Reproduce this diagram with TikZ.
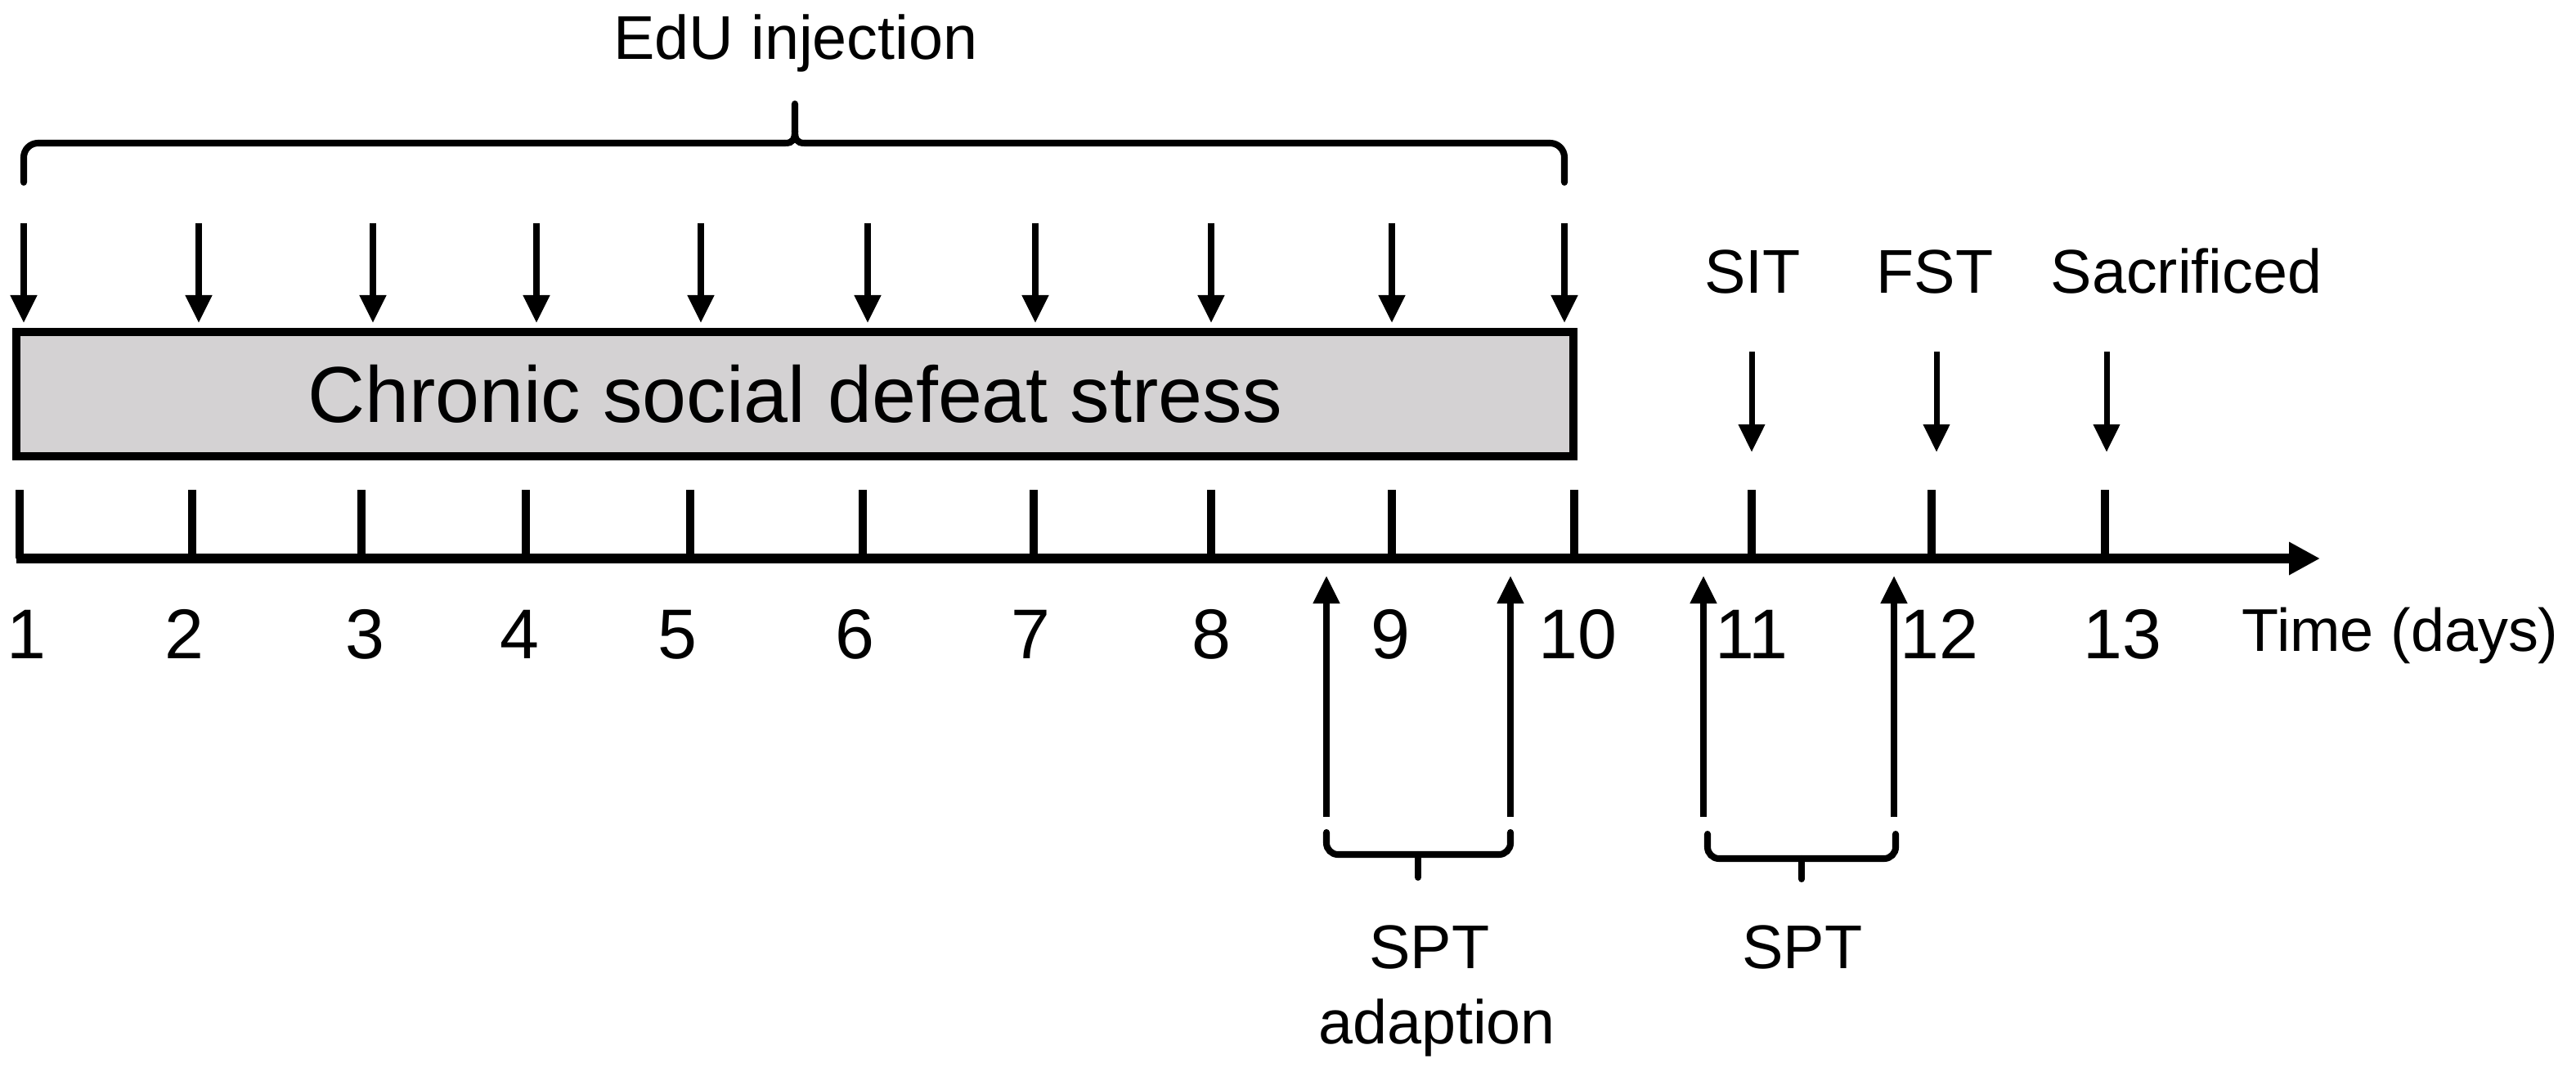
\documentclass[tikz,border=0pt]{standalone}
\usepackage{fontspec}
\setmainfont{Liberation Sans}
\usetikzlibrary{arrows.meta}
\definecolor{boxgray}{RGB}{212,210,211}

\begin{document}
\begin{tikzpicture}[
    x=1cm, y=-1cm,
    inject/.style={line width=2.2pt, -{Triangle[length=0.34cm, width=0.31cm]}},
    event/.style={line width=2pt, -{Triangle[length=0.34cm, width=0.31cm]}},
    daytick/.style={line width=3pt},
    timeline/.style={line width=3.6pt, -{Triangle[length=0.38cm, width=0.38cm]}},
    bracket/.style={line width=2.3pt, line cap=round},
    stressbox/.style={draw=black, line width=2.6pt, fill=boxgray,
        minimum width=19.04cm, minimum height=1.52cm, inner sep=0pt,
        font=\fontsize{27.6}{33}\selectfont},
    lbl/.style={inner sep=0pt, anchor=base, font=\fontsize{21.5}{26}\selectfont},
    daynum/.style={inner sep=0pt, anchor=base, font=\fontsize{24.5}{29}\selectfont}
]
    \useasboundingbox (0,0) rectangle (31.5,13.11);

    \node[lbl] (edu) at (9.73,0.73) {EdU injection};
    \coordinate (braceL) at (0.29,2.23);
    \coordinate (braceR) at (19.13,2.23);
    \coordinate (braceM) at (9.72,1.75);
    \coordinate (braceT) at (9.72,1.27);
    \draw[bracket, rounded corners=5pt] (braceL) |- (9.60,1.75);
    \draw[bracket, rounded corners=5pt] (braceR) |- (9.84,1.75);
    \draw[bracket] (9.60,1.75) .. controls (9.70,1.75) and (9.72,1.70) .. (9.72,1.60) -- (braceT);
    \draw[bracket] (9.84,1.75) .. controls (9.74,1.75) and (9.72,1.70) .. (9.72,1.60);

    \foreach \x [count=\i] in {0.29,2.43,4.56,6.56,8.57,10.61,12.66,14.81,17.02,19.13} {
        \coordinate (inj\i) at (\x,2.73);
        \coordinate (injtip\i) at (\x,3.95);
        \draw[inject] (inj\i) -- (injtip\i);
    }

    \node[stressbox] (csds) at (9.72,4.82) {Chronic social defeat stress};

    \node[lbl] (sit) at (21.43,3.59) {SIT};
    \node[lbl] (fst) at (23.66,3.59) {FST};
    \node[lbl, anchor=base west] (sac) at (25.07,3.59) {Sacrificed};
    \foreach \x/\n in {21.42/sit, 23.68/fst, 25.76/sac} {
        \coordinate (\n top) at (\x,4.30);
        \coordinate (\n tip) at (\x,5.53);
        \draw[event] (\n top) -- (\n tip);
    }

    \coordinate (t0) at (0.20,6.83);
    \coordinate (tend) at (28.37,6.83);
    \draw[timeline] (t0) -- (tend);
    \foreach \x [count=\d] in {0.24,2.35,4.42,6.43,8.44,10.55,12.64,14.81,17.02,19.25,21.42,23.62,25.74} {
        \coordinate (tick\d) at (\x,5.99);
        \coordinate (tickbase\d) at (\x,6.83);
        \draw[daytick] (tick\d) -- (tickbase\d);
    }
    \foreach \x [count=\d] in {0.32,2.25,4.46,6.35,8.28,10.45,12.60,14.81,17.00,19.29,21.42,23.71,25.95}
        \node[daynum] (day\d) at (\x,8.05) {\d};
    \node[lbl, anchor=base west, font=\fontsize{21}{25}\selectfont] (time) at (27.41,7.96) {Time (days)};

    \foreach \x [count=\i] in {16.22,18.47,20.83,23.16} {
        \coordinate (spt\i) at (\x,9.99);
        \coordinate (spttip\i) at (\x,7.04);
        \draw[inject] (spt\i) -- (spttip\i);
    }
    \draw[bracket, rounded corners=4pt] (16.22,10.18) |- (17.34,10.45) -| (18.47,10.18);
    \draw[bracket] (17.34,10.45) -- (17.34,10.73);
    \draw[bracket, rounded corners=4pt] (20.88,10.20) |- (22.03,10.50) -| (23.18,10.20);
    \draw[bracket] (22.03,10.50) -- (22.03,10.75);

    \node[lbl] (sptadapt) at (17.48,11.84) {SPT};
    \node[lbl] (adapt) at (17.57,12.76) {adaption};
    \node[lbl] (spttest) at (22.04,11.84) {SPT};
\end{tikzpicture}
\end{document}
